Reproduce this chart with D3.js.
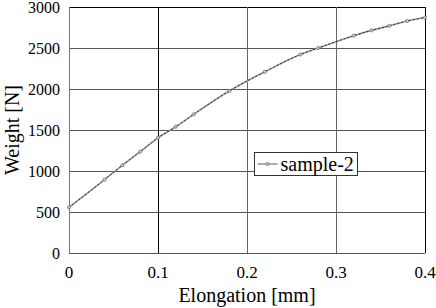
<!DOCTYPE html>
<html>
<head>
<meta charset="utf-8">
<script src="https://cdn.jsdelivr.net/npm/d3@7"></script>
<style>
	body { margin: 0; background: #fff; }
	text { font-family: "Liberation Serif", "DejaVu Serif", serif; fill: #000; }
</style>
</head>
<body>
<svg id="chart" width="436" height="308"></svg>
<script>
const WIDTH = 436,
	  HEIGHT = 308;

// data
const elongation = [0, 0.04, 0.06, 0.08, 0.10, 0.12, 0.14, 0.18, 0.22, 0.26, 0.28, 0.32, 0.34, 0.36, 0.38, 0.40];
const weight = [557, 895, 1070, 1235, 1405, 1540, 1690, 1975, 2210, 2420, 2500, 2650, 2715, 2770, 2830, 2872];
const xTicks = [0, 0.1, 0.2, 0.3, 0.4];
const yTicks = [0, 500, 1000, 1500, 2000, 2500, 3000];
const seriesName = "sample-2";

const margin = {left: 69, right: 11, top: 7, bottom: 55};

let svg = d3.select("#chart");

let x = d3.scaleLinear()
		.domain([0, 0.4])
		.range([margin.left, WIDTH - margin.right]);

let y = d3.scaleLinear()
		.domain([0, 3000])
		.range([HEIGHT - margin.bottom, margin.top]);

// horizontal grid
svg.append("g")
	.selectAll("line")
	.data(yTicks)
	.join("line")
		.attr("x1", x(0))
		.attr("x2", x(0.4))
		.attr("y1", d => Math.round(y(d)) + 0.5)
		.attr("y2", d => Math.round(y(d)) + 0.5)
		.attr("stroke", d => d == 3000 ? "#000" : "#555")
		.attr("stroke-width", 1);

// vertical grid, the 0.1 line is darker
svg.append("g")
	.selectAll("line")
	.data(xTicks)
	.join("line")
		.attr("x1", d => Math.round(x(d)) + 0.5)
		.attr("x2", d => Math.round(x(d)) + 0.5)
		.attr("y1", y(0))
		.attr("y2", y(3000))
		.attr("stroke", d => (d == 0.1 || d == 0.4) ? "#000" : (d == 0 ? "#777" : "#666"))
		.attr("stroke-width", 1);

// tick labels
svg.append("g")
	.selectAll("text")
	.data(yTicks)
	.join("text")
		.attr("x", 60)
		.attr("y", d => y(d))
		.attr("dy", "0.35em")
		.attr("text-anchor", "end")
		.style("font-size", "16px")
		.text(d => d);

svg.append("g")
	.selectAll("text")
	.data(xTicks)
	.join("text")
		.attr("x", d => x(d))
		.attr("y", 278)
		.attr("text-anchor", "middle")
		.style("font-size", "17px")
		.text(d => d == 0 ? "0" : d3.format(".1f")(d));

// axis titles
svg.append("text")
	.attr("x", x(0.2))
	.attr("y", 302)
	.attr("text-anchor", "middle")
	.style("font-size", "20px")
	.text("Elongation [mm]");

svg.append("text")
	.attr("transform", "translate(19," + y(1500) + ") rotate(-90)")
	.attr("text-anchor", "middle")
	.style("font-size", "20px")
	.text("Weight [N]");

// series line
let pts = elongation.map((d, i) => [d, weight[i]]);

let line = d3.line()
		.x(d => x(d[0]))
		.y(d => y(d[1]))
		.curve(d3.curveMonotoneX);

svg.append("path")
	.attr("d", line(pts))
	.attr("fill", "none")
	.attr("stroke", "#999")
	.attr("stroke-width", 1.6);

svg.append("path")
	.attr("d", line(pts))
	.attr("fill", "none")
	.attr("stroke", "#222")
	.attr("stroke-width", 0.9)
	.attr("stroke-dasharray", "2,2");

// markers
svg.append("g")
	.selectAll("circle")
	.data(pts)
	.join("circle")
		.attr("cx", d => x(d[0]))
		.attr("cy", d => y(d[1]))
		.attr("r", 1.6)
		.attr("fill", "#ccc")
		.attr("stroke", "#666")
		.attr("stroke-width", 0.7);

// legend
let legend = svg.append("g")
		.attr("transform", "translate(254.5,152.5)");

legend.append("rect")
	.attr("width", 103)
	.attr("height", 23)
	.attr("fill", "#fff")
	.attr("stroke", "#333")
	.attr("stroke-width", 1);

legend.append("line")
	.attr("x1", 3)
	.attr("x2", 23)
	.attr("y1", 11.5)
	.attr("y2", 11.5)
	.attr("stroke", "#777")
	.attr("stroke-width", 1.2);

legend.append("circle")
	.attr("cx", 13)
	.attr("cy", 11.5)
	.attr("r", 1.6)
	.attr("fill", "#ccc")
	.attr("stroke", "#666")
	.attr("stroke-width", 0.7);

legend.append("text")
	.attr("x", 26)
	.attr("y", 18)
	.style("font-size", "20px")
	.text(seriesName);
</script>
</body>
</html>
